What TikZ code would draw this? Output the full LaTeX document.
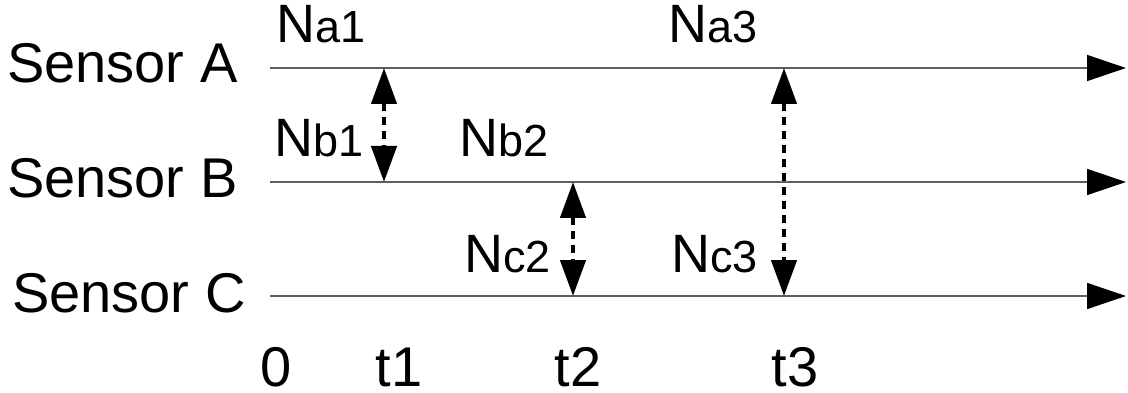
\documentclass[tikz,border=0pt]{standalone}
\usepackage{fontspec}
\setmainfont{Liberation Sans}
\usetikzlibrary{arrows.meta}
\definecolor{axisgray}{RGB}{95,95,95}
\newcommand\smallpart[1]{{\fontsize{45}{48}\selectfont #1}}
\begin{document}
\begin{tikzpicture}[x=1pt,y=-1pt,
  sensorlbl/.style={anchor=base west,inner sep=0pt,font=\fontsize{56}{60}\selectfont},
  timelbl/.style={anchor=base,inner sep=0pt,font=\fontsize{56}{60}\selectfont},
  msglbl/.style={anchor=base west,inner sep=0pt,font=\fontsize{54}{60}\selectfont},
  timeline/.style={draw=axisgray,line width=1.5pt,
    -{Triangle[length=39pt,width=26pt,color=black,fill=black]}},
  sync/.style={line width=4.5pt,dash pattern=on 8pt off 6pt,
    {Triangle[length=36pt,width=25pt]}-{Triangle[length=36pt,width=25pt]}}
]
\useasboundingbox (0,0) rectangle (1128,393);

% sensor names
\node[sensorlbl] (sA) at (7,83)  {Sensor A};
\node[sensorlbl] (sB) at (7,197) {Sensor B};
\node[sensorlbl] (sC) at (12,312) {Sensor C};

% timelines
\coordinate (a0) at (270,68);  \coordinate (aE) at (1126,68);
\coordinate (b0) at (270,182); \coordinate (bE) at (1126,182);
\coordinate (c0) at (270,296); \coordinate (cE) at (1126,296);
\draw[timeline] (a0) -- (aE);
\draw[timeline] (b0) -- (bE);
\draw[timeline] (c0) -- (cE);

% sync instants
\coordinate (a1) at (384,68);  \coordinate (b1) at (384,182);
\coordinate (b2) at (573,182); \coordinate (c2) at (573,296);
\coordinate (a3) at (784,68);  \coordinate (c3) at (784,296);
\draw[sync] (a1) -- (b1);
\draw[sync] (b2) -- (c2);
\draw[sync] (a3) -- (c3);

% message labels
\node[msglbl] (na1) at (276,43)  {N\smallpart{a1}};
\node[msglbl] (na3) at (668,43)  {N\smallpart{a3}};
\node[msglbl] (nb1) at (274,157) {N\smallpart{b1}};
\node[msglbl] (nb2) at (459,157) {N\smallpart{b2}};
\node[msglbl] (nc2) at (464,272) {N\smallpart{c2}};
\node[msglbl] (nc3) at (671,272) {N\smallpart{c3}};

% time axis labels
\node[timelbl] (t0) at (276,386) {0};
\node[timelbl] (t1) at (399,386) {t1};
\node[timelbl] (t2) at (578,386) {t2};
\node[timelbl] (t3) at (795,386) {t3};
\end{tikzpicture}
\end{document}
